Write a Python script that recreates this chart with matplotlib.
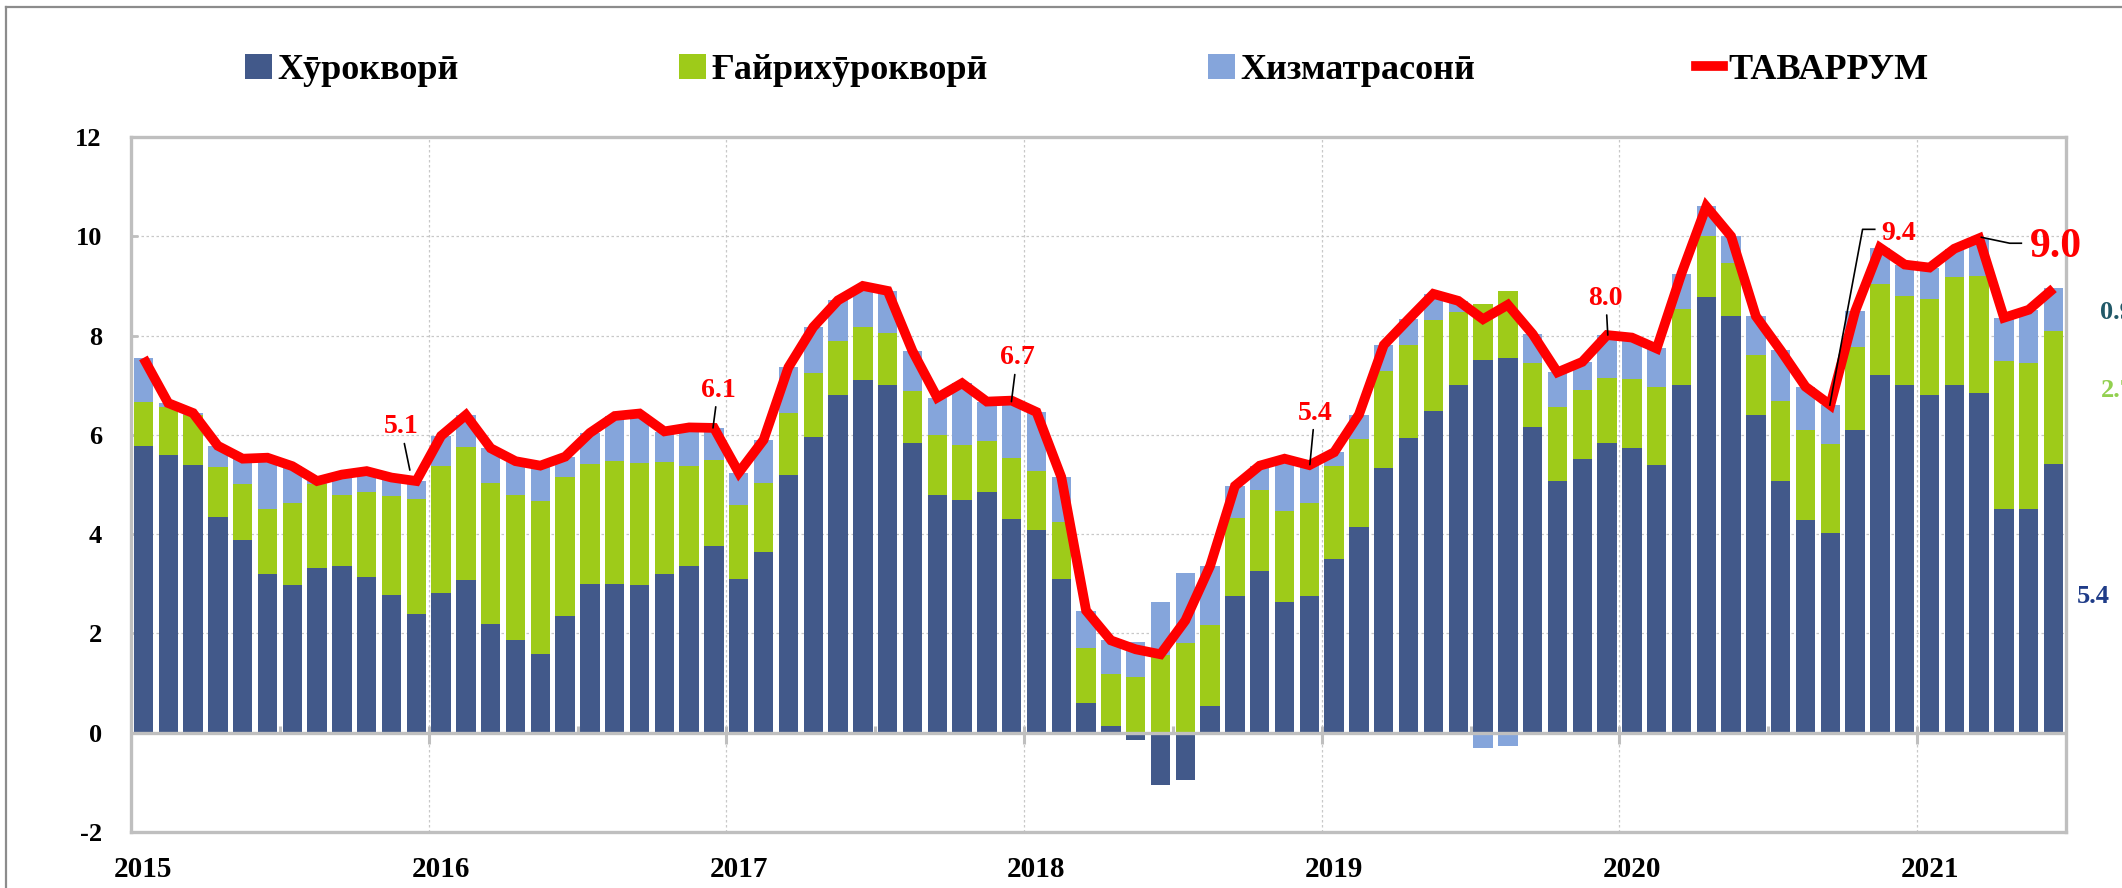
import numpy as np
import matplotlib
matplotlib.use("Agg")
import matplotlib.pyplot as plt
from matplotlib.patches import Patch
from matplotlib.lines import Line2D

plt.rcParams['font.family'] = ['Liberation Serif', 'DejaVu Serif']
plt.rcParams['font.weight'] = 'bold'

# ---------------- data (monthly, Jan 2015 - Jun 2021) ----------------
years = ['2015', '2016', '2017', '2018', '2019', '2020', '2021']

food = [5.77, 5.60, 5.39, 4.34, 3.88, 3.19, 2.98, 3.32, 3.36, 3.14, 2.78, 2.40,
        2.81, 3.07, 2.19, 1.87, 1.58, 2.36, 2.99, 3.00, 2.97, 3.19, 3.36, 3.76,
        3.10, 3.65, 5.19, 5.95, 6.80, 7.10, 7.00, 5.83, 4.78, 4.69, 4.84, 4.31,
        4.09, 3.10, 0.60, 0.13, -0.14, -1.06, -0.95, 0.54, 2.75, 3.25, 2.64, 2.75,
        3.49, 4.15, 5.34, 5.94, 6.48, 7.01, 7.50, 7.55, 6.15, 5.08, 5.52, 5.83,
        5.74, 5.39, 7.00, 8.78, 8.40, 6.41, 5.07, 4.29, 4.03, 6.09, 7.21, 7.00,
        6.80, 7.00, 6.85, 4.51, 4.51, 5.42]

nonfood = [0.89, 0.96, 1.01, 1.02, 1.12, 1.32, 1.65, 1.68, 1.42, 1.70, 1.98, 2.31,
           2.57, 2.69, 2.85, 2.92, 3.08, 2.79, 2.42, 2.48, 2.47, 2.27, 2.02, 1.74,
           1.49, 1.39, 1.25, 1.30, 1.10, 1.07, 1.05, 1.05, 1.22, 1.10, 1.03, 1.22,
           1.19, 1.14, 1.11, 1.06, 1.12, 1.56, 1.81, 1.63, 1.57, 1.63, 1.82, 1.88,
           1.88, 1.77, 1.94, 1.88, 1.84, 1.46, 1.14, 1.34, 1.30, 1.48, 1.39, 1.31,
           1.39, 1.57, 1.54, 1.23, 1.06, 1.20, 1.62, 1.80, 1.78, 1.68, 1.83, 1.79,
           1.93, 2.17, 2.34, 2.97, 2.94, 2.68]

services = [0.89, 0.08, 0.04, 0.42, 0.52, 1.03, 0.74, 0.07, 0.42, 0.43, 0.38, 0.36,
            0.60, 0.64, 0.69, 0.67, 0.70, 0.41, 0.63, 0.90, 0.99, 0.60, 0.77, 0.64,
            0.65, 0.86, 0.92, 0.92, 0.81, 0.83, 0.85, 0.81, 0.75, 1.25, 0.80, 1.16,
            1.18, 0.91, 0.75, 0.67, 0.70, 1.08, 1.40, 1.19, 0.65, 0.50, 1.06, 0.76,
            0.28, 0.49, 0.53, 0.51, 0.52, 0.23, -0.31, -0.27, 0.58, 0.70, 0.56, 0.87,
            0.83, 0.78, 0.71, 0.59, 0.54, 0.78, 1.01, 0.88, 0.79, 0.72, 0.73, 0.64,
            0.64, 0.58, 0.77, 0.88, 1.07, 0.85]

inflation = [7.55, 6.64, 6.44, 5.78, 5.52, 5.54, 5.37, 5.07, 5.20, 5.27, 5.14, 5.07,
             5.98, 6.40, 5.73, 5.47, 5.38, 5.56, 6.04, 6.38, 6.43, 6.07, 6.15, 6.14,
             5.24, 5.90, 7.36, 8.17, 8.71, 9.00, 8.90, 7.69, 6.75, 7.04, 6.67, 6.69,
             6.46, 5.15, 2.46, 1.86, 1.68, 1.58, 2.26, 3.36, 4.97, 5.38, 5.52, 5.39,
             5.65, 6.41, 7.81, 8.33, 8.84, 8.70, 8.33, 8.62, 8.03, 7.26, 7.47, 8.01,
             7.96, 7.74, 9.25, 10.60, 10.00, 8.39, 7.70, 6.97, 6.60, 8.49, 9.77, 9.43,
             9.37, 9.75, 9.96, 8.36, 8.52, 8.95]

series_names = ['Хӯрокворӣ', 'Ғайрихӯрокворӣ', 'Хизматрасонӣ', 'ТАВАРРУМ']
colors = ['#42598A', '#9ECB19', '#85A5DB']
line_color = '#FF0000'

# ---------------- figure ----------------
W, H = 2122, 888
fig = plt.figure(figsize=(W / 100, H / 100), dpi=100)
L, R, T, B = 131, 2066, 137, 832
ax = fig.add_axes([L / W, 1 - B / H, (R - L) / W, (B - T) / H])

n = len(food)
x = np.arange(n)
pos_base = np.zeros(n)
neg_base = np.zeros(n)
for vals, col in zip([food, nonfood, services], colors):
    v = np.array(vals)
    bottom = np.where(v >= 0, pos_base, neg_base)
    ax.bar(x, v, bottom=bottom, width=0.78, color=col, linewidth=0, zorder=2)
    pos_base = pos_base + np.where(v > 0, v, 0)
    neg_base = neg_base + np.where(v < 0, v, 0)

ax.plot(x, inflation, color=line_color, lw=7, solid_joinstyle='miter',
        solid_capstyle='butt', zorder=5)

ax.set_xlim(-0.5, n - 0.5)
ax.set_ylim(-2, 12)

grey = '#BFBFBF'
for s in ax.spines.values():
    s.set_color(grey)
    s.set_linewidth(2.4)

# grid
ax.set_yticks(range(-2, 13, 2))
ax.set_yticklabels([str(v) for v in range(-2, 13, 2)])
for yv in range(2, 12, 2):
    ax.axhline(yv, color='#C8C8C8', lw=0.9, ls=(0, (2, 2)), zorder=1)
ax.axhline(0, color=grey, lw=2.4, zorder=3)
bounds = np.arange(11.5, n - 1, 12)
for b in bounds:
    ax.axvline(b, color='#C8C8C8', lw=0.9, ls=(0, (2, 2)), zorder=1)
    ax.plot([b, b], [-0.22, 0.13], color=grey, lw=2.2, zorder=3, solid_capstyle='butt')
for m in np.arange(5.5, n - 1, 12):
    ax.plot([m, m], [0, 0.13], color=grey, lw=2.2, zorder=3, solid_capstyle='butt')

ax.tick_params(axis='y', direction='in', length=5, width=2, color=grey,
               pad=21, labelsize=19)
ax.set_xticks(np.arange(0, n, 12))
ax.set_xticklabels(years)
ax.tick_params(axis='x', length=0, pad=17, labelsize=21)
for lab in ax.get_xticklabels() + ax.get_yticklabels():
    lab.set_fontweight('bold')

# annotations
def ann(txt, xt, yt, xe, ye, size=20):
    ax.annotate(txt, xy=(xe, ye), xytext=(xt, yt), ha='center', va='center',
                color=line_color, fontsize=size, fontweight='bold', zorder=6,
                arrowprops=dict(arrowstyle='-', color='black', lw=1.2,
                                shrinkA=1, shrinkB=0))

ann('5.1', 10.38, 6.16, 10.74, 5.29)
ann('6.1', 23.16, 6.90, 22.96, 6.14)
ann('6.7', 35.21, 7.55, 34.99, 6.67)
ann('5.4', 47.22, 6.44, 47.02, 5.40)
ann('8.0', 58.95, 8.75, 59.03, 8.01)

ax.plot([69.79, 69.30, 67.98], [10.14, 10.14, 6.60], color='black', lw=1.2, zorder=6)
ax.text(70.05, 10.06, '9.4', color=line_color, fontsize=20, fontweight='bold',
        ha='left', va='center', zorder=6)
ax.plot([74.09, 75.23, 75.70], [9.98, 9.86, 9.86], color='black', lw=1.2, zorder=6,
        clip_on=False)
ax.text(76.04, 9.78, '9.0', color=line_color, fontsize=30, fontweight='bold',
        ha='left', va='center', zorder=6, clip_on=False)

ax.text(78.89, 8.47, '0.9', color='#215968', fontsize=19, fontweight='bold',
        ha='left', va='center', clip_on=False)
ax.text(78.89, 6.90, '2.7', color='#92D050', fontsize=19, fontweight='bold',
        ha='left', va='center', clip_on=False)
ax.text(77.92, 2.74, '5.4', color='#1F3C88', fontsize=19, fontweight='bold',
        ha='left', va='center', clip_on=False)

# legend
handles = [Patch(facecolor=c, edgecolor='none') for c in colors] + \
          [Line2D([0], [0], color=line_color, lw=7)]
fig.legend(handles, series_names, loc='center', bbox_to_anchor=(0.512, 0.921),
           ncol=4, frameon=False, prop={'size': 26, 'weight': 'bold'},
           handlelength=0.75, handleheight=0.7, handletextpad=0.15,
           columnspacing=6.1)

# outer chart border (top and left visible)
fig.add_artist(Line2D([6 / W, 1], [1 - 7 / H, 1 - 7 / H], color='#8C8C8C', lw=1.6))
fig.add_artist(Line2D([6 / W, 6 / W], [0, 1 - 7 / H], color='#8C8C8C', lw=1.6))

fig.savefig('out.png', dpi=100)
